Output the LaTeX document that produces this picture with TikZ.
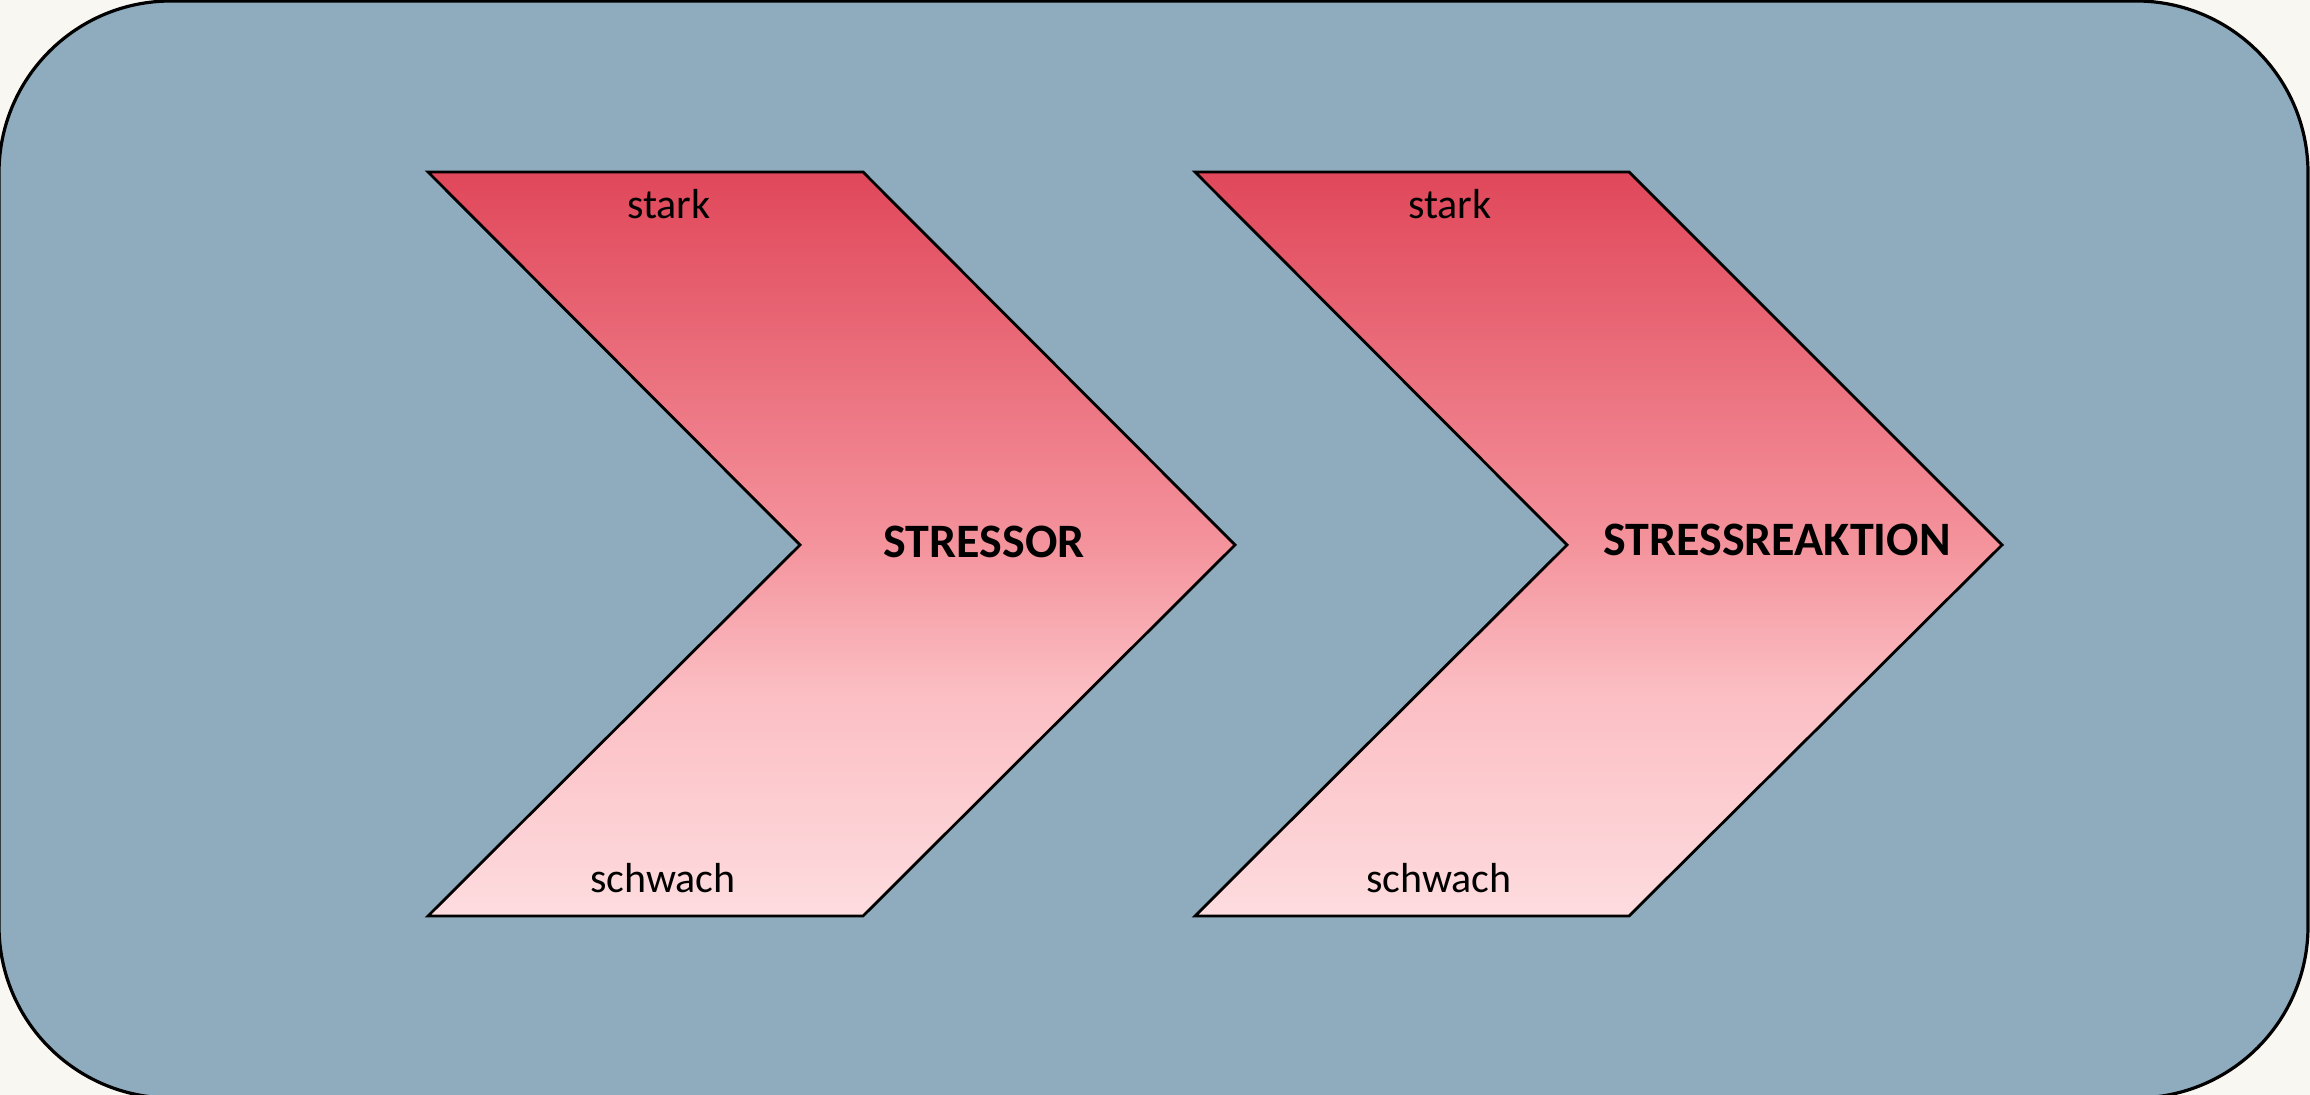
\documentclass[tikz,border=0pt]{standalone}
\usepackage{fontspec}
\setmainfont{Carlito}
\definecolor{pagebg}{HTML}{F8F7F2}
\definecolor{panel}{HTML}{8FACBF}
\definecolor{chevtop}{HTML}{E0475A}
\definecolor{chevmid}{HTML}{F4939C}
\definecolor{chevlow}{HTML}{FBBEC3}
\definecolor{chevbot}{HTML}{FDDCDF}
% red-to-pink fill; 25bp = bottom edge, 75bp = top edge of the filled path
\pgfdeclareverticalshading{chevfill}{100bp}{%
  color(0bp)=(chevbot); color(25bp)=(chevbot); color(40bp)=(chevlow);
  color(50bp)=(chevmid); color(75bp)=(chevtop); color(100bp)=(chevtop)}
\begin{document}
\begin{tikzpicture}[x=0.5pt,y=0.5pt,
  chevron/.style={draw=black,line width=1.4pt,line join=miter,shading=chevfill},
  smalllbl/.style={font=\fontsize{21pt}{25pt}\selectfont,inner sep=0pt,anchor=base},
  biglbl/.style={font=\fontsize{24pt}{29pt}\selectfont\bfseries,inner sep=0pt,anchor=base}]
  \useasboundingbox (0,0) rectangle (2310,1095);
  \fill[pagebg] (0,0) rectangle (2310,1095);
  % rounded panel behind the chevrons
  \draw[fill=panel,line width=1.6pt,rounded corners=86pt] (-1,-3) rectangle (2308,1094);

  % first chevron
  \coordinate (a1) at (428,923);
  \coordinate (a2) at (863,923);
  \coordinate (a3) at (1235,550);
  \coordinate (a4) at (863,179);
  \coordinate (a5) at (428,179);
  \coordinate (a6) at (800,550);
  \path[chevron] (a1) -- (a2) -- (a3) -- (a4) -- (a5) -- (a6) -- cycle;

  % second chevron
  \coordinate (b1) at (1195,923);
  \coordinate (b2) at (1629,923);
  \coordinate (b3) at (2002,550);
  \coordinate (b4) at (1629,179);
  \coordinate (b5) at (1195,179);
  \coordinate (b6) at (1567,550);
  \path[chevron] (b1) -- (b2) -- (b3) -- (b4) -- (b5) -- (b6) -- cycle;

  % labels
  \node[smalllbl] (stark1) at (669,876) {stark};
  \node[smalllbl] (schwach1) at (663,202) {schwach};
  \node[biglbl] (stressor) at (984,537) {STRESSOR};
  \node[smalllbl] (stark2) at (1450,876) {stark};
  \node[smalllbl] (schwach2) at (1439,202) {schwach};
  \node[biglbl] (reaktion) at (1777,539) {STRESSREAKTION};
\end{tikzpicture}
\end{document}
